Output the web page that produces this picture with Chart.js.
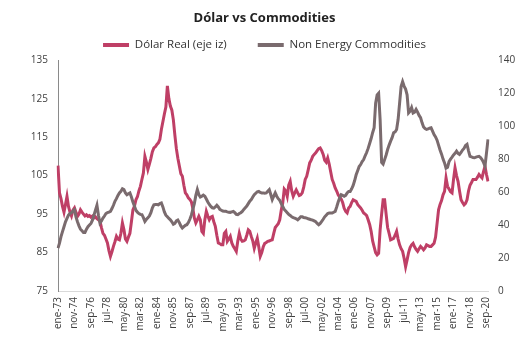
<!DOCTYPE html>
<html><head><meta charset="utf-8">
<script src="https://cdn.jsdelivr.net/npm/chart.js@4.4.0/dist/chart.umd.min.js"></script>
<style>html,body{margin:0;padding:0;background:#fff;} canvas{display:block;}</style>
</head><body>
<canvas id="c" width="529" height="358"></canvas>
<script>
// Bi-monthly observations, ene-73 .. nov-20
const monthNames = ['ene','mar','may','jul','sep','nov'];
const startYear = 1973;
const tickEvery = 11; // one label every 22 months

const dolarReal = [
107.6,100.5,99,97,95.5,97.5,99.6,97,95.5,94.5,96,96.6,
95.5,94.4,95,96.1,95.5,95,94.5,94.8,94.4,94.6,94.2,94.5,
94,94.3,93.8,93.5,93.2,91.5,90,89.5,88.5,87.5,85.5,84,
85.2,86.6,87.8,89.2,88.5,88.3,90,92.7,91,88.5,87.9,89,
90,93,96.1,97,98.7,99.5,101,102.2,104,105.7,110,108.5,
106.6,108,109.5,111.2,112.2,112.5,113.1,113.5,114.4,117,119,121,
122.8,128.3,125,123.1,122,119.5,115.5,112,109.5,107.5,105.5,104.8,
102.5,100.5,100,99.2,98.8,98.2,96.5,94,92.7,93.5,94.4,93.5,
90.5,90,93.5,95.7,94.5,93.5,94.2,94.4,93,91.8,89.5,87.5,
87.3,87,87,90,90.5,87.9,88.5,89.2,87.5,86.6,86,85.3,
88,90,88.5,87.9,88,88.3,89.5,90.9,90.5,89.2,88,86.1,
87.5,88.7,86.5,84,85,86.5,87.4,87.6,87.9,88,88.2,88.3,
90,91.5,92,92.5,93.5,96,97.9,101.5,101,99.6,102.5,103.5,
101,99.6,100.5,101.3,100.5,99.8,100,100.5,102,104,104.8,106.5,
108.3,109,110,110.5,110.9,111.5,112,112.2,111.5,110.5,109,108.5,
109.6,108,106,104,103,101.8,101,100,99.4,98.9,98,96.5,
95.7,95.3,96.6,97,98,98.7,98.5,98.3,97.5,97,96.6,96,
95.3,95,94.6,93.5,92.3,90.5,88,86.5,85,84.4,84.8,90.9,
95,98.7,98.7,95,91.5,90,88.3,88.5,88.7,89.5,90.5,88.5,
87,86,85.3,83.5,81.3,83.1,85,86.3,87,87.4,86.5,85.8,
85.3,86,86.6,86.2,85.7,86.2,87,86.8,86.6,86.6,87,87.4,
89,92.5,96.1,97.5,98.5,100,100.9,104.4,102.2,101.5,100.8,100.5,
104,107,105,103.5,101,98.7,98,97.4,97.8,98.7,101,102.5,
103.2,104,104,104,104.6,105.3,104.8,104.4,106,107.4,105.3,103.5
];

const nonEnergy = [
26,29,33,36,39,42,44,46,47,47.5,48.5,49.3,
45,42,39.5,37.5,36.5,35.5,35.5,37.5,39,40,41,43,
46,49,52,46,41.2,42.5,44.2,45.5,47,47.5,47.8,48.3,
50,52,54.4,56,58,59.5,60.5,62,61.5,59.5,58.4,59,
59.5,57,54,51.5,49,47.8,47,46.5,46.3,44.5,42.2,43.5,
44.5,45.5,47.5,50.5,52.3,52.5,52.5,52.3,53,53.4,51,48,
46,45,44,43.2,42,40.5,41,42.5,43,41.5,39.5,38.2,
39,39.8,40.2,41.5,43.5,46,49.5,53,58,61.5,58.5,57,
57.5,58.2,57.5,55.8,54,52.5,51.3,50.5,50.3,51,52,51,
49.5,49,48.5,48.3,48.3,48,47.8,47.7,48,48.3,47.5,46.5,
46.3,47,47.5,48.3,49.5,50.5,51.5,53,54.5,55.4,57,58.4,
59.3,60.2,60.4,59.8,59.5,59.5,59.3,59.5,60.5,61.5,58.5,55.4,
57.5,59.5,57.5,56,55,53,51.3,49.5,48.5,47.5,46.5,45.8,
45,44.5,44.2,43.8,43.2,44,45,45,44.6,44.4,44.2,43.8,
43.5,43.2,43,42.5,42,41,40.2,41,42.2,43.5,45,46,
47,47.3,47.3,47.3,47.8,48.3,51,54,56.5,58.4,58,57.5,
58,59.5,60.4,60.4,62,64,67,70.5,73,75.5,76.7,78.5,
79.7,82,84,86.5,89.5,92.5,96,99,114,119,120,104,
78,77,79.7,82.5,85.8,88.5,90.9,93,96,96.5,98,104,
114,124,127,124.3,122.5,119,108,109,111.2,108,108.5,110.2,
108.5,106.5,105.1,102,99.5,98.5,98,98.3,98.8,99,97,94.9,
93.5,91.5,88.5,85.5,83,80,77.7,74.5,75,78.5,80,81.2,
82.5,83.5,84.8,83.5,82.8,84,85.5,86.5,88.2,88.9,85,81.7,
81.3,81,80.8,81.2,81.5,81.7,81,79.7,78,75.7,83.8,92
];

const leftTicks = {min: 75, max: 135, step: 10};
const rightTicks = {min: 0, max: 140, step: 20};

const categories = [];
for (let i = 0; i < dolarReal.length; i++) {
  const yr = startYear + Math.floor(i / 6);
  categories.push(monthNames[i % 6] + '-' + String(yr % 100).padStart(2, '0'));
}

const RED = '#BF3F66';
const GREY = '#7A6B6E';
const FONT = 'Open Sans';

const legendHeightPlugin = {
  id: 'legendHeight',
  beforeLayout(chart) {
    const lg = chart.legend;
    if (lg && !lg._fixedFit) {
      const orig = lg.fit;
      lg.fit = function () { orig.call(this); this.height = 52; };
      lg._fixedFit = true;
    }
  }
};

new Chart(document.getElementById('c'), {
  type: 'line',
  data: {
    labels: categories,
    datasets: [
      {label: 'Dólar Real (eje iz)', data: dolarReal, yAxisID: 'y',
       borderColor: RED, backgroundColor: RED, borderWidth: 3, pointRadius: 0, order: 1},
      {label: 'Non Energy Commodities', data: nonEnergy, yAxisID: 'y1',
       borderColor: GREY, backgroundColor: GREY, borderWidth: 3, pointRadius: 0, order: 0}
    ]
  },
  options: {
    responsive: false,
    devicePixelRatio: 1,
    animation: false,
    layout: {padding: 0},
    plugins: {
      tooltip: {enabled: false},
      title: {display: true, text: 'Dólar vs Commodities', color: '#222',
        font: {family: FONT, size: 13, weight: 'bold'}, padding: {top: 10, bottom: -17.4}},
      legend: {display: true, position: 'top',
        labels: {boxWidth: 26, boxHeight: 4, padding: 31, color: '#333',
          font: {family: FONT, size: 11.5},
          sort: (a, b) => a.datasetIndex - b.datasetIndex,
          generateLabels: (chart) => Chart.defaults.plugins.legend.labels.generateLabels(chart)
            .map(l => Object.assign(l, {lineWidth: 0}))}}
    },
    scales: {
      x: {type: 'category',
        grid: {display: false, drawTicks: false},
        border: {display: true, color: '#d9d9d9', width: 1},
        ticks: {autoSkip: false, maxRotation: 90, minRotation: 90, padding: 6,
          color: '#404040', font: {family: FONT, size: 10},
          callback: (v, i) => (i % tickEvery === 0 ? categories[i] : null)},
        afterFit: (s) => { s.height = 67; }},
      y: {position: 'left', min: leftTicks.min, max: leftTicks.max,
        grid: {display: false, drawTicks: false},
        border: {display: true, color: '#8a8a8a', width: 1},
        ticks: {stepSize: leftTicks.step, padding: 10, color: '#404040', font: {family: FONT, size: 10}},
        afterFit: (s) => { s.width = 58; }},
      y1: {position: 'right', min: rightTicks.min, max: rightTicks.max,
        grid: {display: false, drawTicks: false},
        border: {display: false},
        ticks: {stepSize: rightTicks.step, padding: 10, color: '#404040', font: {family: FONT, size: 10}},
        afterFit: (s) => { s.width = 41; }}
    }
  },
  plugins: [legendHeightPlugin]
});
</script>
</body></html>
